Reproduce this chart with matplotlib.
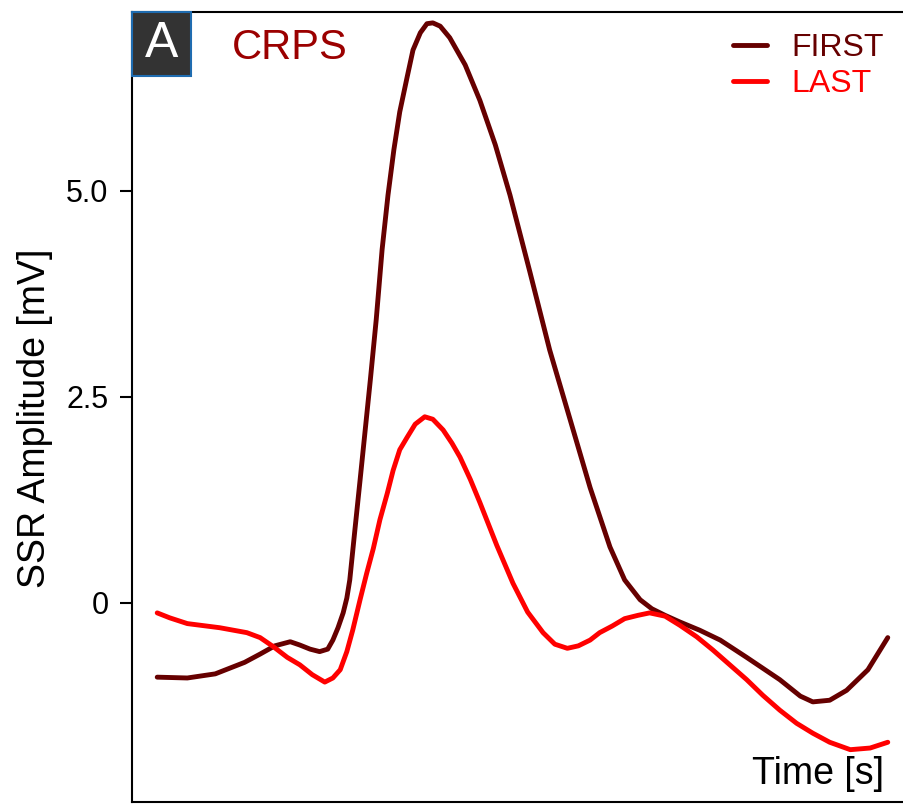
import matplotlib as mpl
import matplotlib.pyplot as plt
from matplotlib.patches import Rectangle
import numpy as np

mpl.rcParams["font.family"] = ["Liberation Sans", "DejaVu Sans"]

# values
time_first = [0.03, 0.44, 0.82, 1.02, 1.22, 1.43, 1.63, 1.84, 1.97, 2.11, 2.24,
              2.35, 2.42, 2.49, 2.56, 2.61, 2.65, 2.72, 2.79, 2.86, 2.93, 3.01,
              3.09, 3.17, 3.25, 3.33, 3.43, 3.51, 3.61, 3.70, 3.78, 3.88, 4.01,
              4.22, 4.42, 4.63, 4.83, 5.10, 5.37, 5.65, 5.92, 6.19, 6.39, 6.60,
              6.76, 6.94, 7.14, 7.41, 7.69, 8.05, 8.50, 8.78, 8.95, 9.18, 9.41,
              9.70, 9.97]
amp_first = [-0.90, -0.91, -0.86, -0.79, -0.72, -0.62, -0.52, -0.47, -0.51, -0.56, -0.59,
             -0.56, -0.45, -0.30, -0.12, 0.06, 0.28, 0.89, 1.49, 2.10, 2.71, 3.44,
             4.29, 4.95, 5.50, 5.96, 6.38, 6.71, 6.92, 7.03, 7.04, 7.00, 6.86,
             6.53, 6.10, 5.56, 4.95, 4.02, 3.07, 2.22, 1.40, 0.68, 0.28, 0.04,
             -0.07, -0.15, -0.23, -0.33, -0.45, -0.66, -0.93, -1.13, -1.20, -1.18, -1.06,
             -0.81, -0.42]

time_last = [0.03, 0.20, 0.44, 0.88, 1.25, 1.43, 1.61, 1.80, 1.97, 2.14, 2.31,
             2.42, 2.52, 2.61, 2.69, 2.79, 2.88, 2.97, 3.06, 3.16, 3.24, 3.33,
             3.43, 3.54, 3.67, 3.78, 3.92, 4.04, 4.15, 4.29, 4.42, 4.65, 4.87,
             5.07, 5.28, 5.44, 5.61, 5.76, 5.92, 6.05, 6.22, 6.39, 6.57, 6.73,
             6.94, 7.14, 7.37, 7.59, 7.82, 8.05, 8.27, 8.50, 8.73, 8.95, 9.18,
             9.46, 9.73, 9.97]
amp_last = [-0.12, -0.18, -0.25, -0.30, -0.36, -0.42, -0.53, -0.66, -0.75, -0.87, -0.96,
            -0.91, -0.81, -0.59, -0.33, 0.04, 0.36, 0.66, 1.01, 1.33, 1.61, 1.86,
            2.01, 2.17, 2.26, 2.23, 2.10, 1.94, 1.77, 1.50, 1.22, 0.70, 0.24,
            -0.11, -0.36, -0.50, -0.55, -0.52, -0.45, -0.36, -0.28, -0.19, -0.15, -0.12,
            -0.16, -0.27, -0.41, -0.57, -0.75, -0.93, -1.12, -1.30, -1.46, -1.58, -1.69,
            -1.78, -1.76, -1.69]

yticks = [0, 2.5, 5.0]
ytick_labels = ["0", "2.5", "5.0"]

W, H = 904, 806
fig = plt.figure(figsize=(W / 100, H / 100), dpi=100)
# axes box in pixels: left 132, right 906 (off canvas), top 12, bottom 802
ax = fig.add_axes([132 / W, (H - 802) / H, 774 / W, 790 / H])

ax.plot(time_first, amp_first, color="#660000", lw=3.5, label="FIRST",
        solid_capstyle="round", solid_joinstyle="round")
ax.plot(time_last, amp_last, color="#ff0000", lw=3.5, label="LAST",
        solid_capstyle="round", solid_joinstyle="round")

ax.set_xlim(-0.313, 10.218)
ax.set_ylim(-2.415, 7.172)
ax.set_xticks([])
ax.set_yticks(yticks)
ax.set_yticklabels(ytick_labels)
ax.tick_params(axis="y", labelsize=22, length=9, width=1.5, pad=8)
for s in ["left", "top", "bottom", "right"]:
    ax.spines[s].set_linewidth(1.5)

ax.set_ylabel("SSR Amplitude [mV]", fontsize=27)
ax.yaxis.set_label_coords(-0.102, 0.486)

ax.text(0.972, 0.013, "Time [s]", transform=ax.transAxes, ha="right", va="bottom", fontsize=27)

leg = ax.legend(loc="upper right", bbox_to_anchor=(884 / W, (H - 33) / H),
                bbox_transform=fig.transFigure, frameon=False, fontsize=23,
                handlelength=1.05, handletextpad=0.78, labelspacing=0.2,
                borderaxespad=0, borderpad=0, labelcolor="linecolor")

# panel letter box
fig.patches.append(Rectangle((132 / W, (H - 76) / H), 59 / W, 64 / H,
                             transform=fig.transFigure, facecolor="#333333",
                             edgecolor="#1f6cb0", lw=1.5, zorder=5))
fig.text(161.5 / W, (H - 44) / H, "A", color="white", fontsize=36,
         ha="center", va="center", zorder=6)
fig.text(290 / W, (H - 48) / H, "CRPS", color="#9b0000", fontsize=30,
         ha="center", va="center")

plt.savefig("out.png", dpi=100)
